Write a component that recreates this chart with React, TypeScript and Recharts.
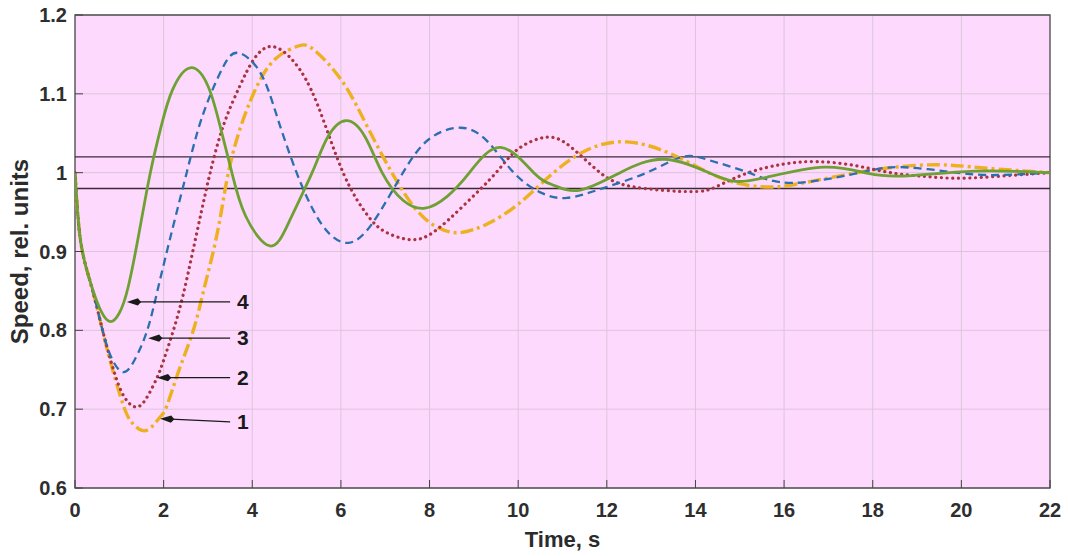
import React from 'react';
import { LineChart, Line, XAxis, YAxis, CartesianGrid, ReferenceLine, ReferenceArea } from 'recharts';

// ---- axis ticks ----
const xTicks = [0, 2, 4, 6, 8, 10, 12, 14, 16, 18, 20, 22];
const yTicks = [0.6, 0.7, 0.8, 0.9, 1, 1.1, 1.2];
const bandUpper = 1.02;
const bandLower = 0.98;

// ---- curve 1 (yellow dash-dot) ----
const curve1Time = [0, 0.04, 0.09, 0.15, 0.25, 0.41, 0.6, 0.79, 1.09, 1.3, 1.51, 1.72, 1.92, 2.07, 2.35, 2.67, 2.9, 3.12, 3.3, 3.46, 3.75, 4.18, 4.6, 5.0, 5.25, 5.6, 6.1, 6.6, 7.15, 7.7, 8.2, 8.7, 9.3, 10.0, 10.8, 11.6, 12.45, 13.4, 14.3, 15.0, 15.8, 16.7, 17.65, 18.5, 19.5, 20.5, 22];
const curve1Speed = [1.0, 0.965, 0.93, 0.905, 0.88, 0.848, 0.805, 0.762, 0.705, 0.682, 0.673, 0.677, 0.69, 0.704, 0.75, 0.8, 0.85, 0.9, 0.95, 1.0, 1.06, 1.118, 1.148, 1.16, 1.161, 1.145, 1.11, 1.058, 1.0, 0.953, 0.93, 0.924, 0.935, 0.96, 1.0, 1.03, 1.039, 1.025, 1.0, 0.986, 0.982, 0.99, 1.0, 1.007, 1.01, 1.006, 1.0];

// ---- curve 2 (red dotted) ----
const curve2Time = [0, 0.04, 0.09, 0.15, 0.25, 0.41, 0.6, 0.79, 1.05, 1.35, 1.6, 1.85, 2.0, 2.22, 2.44, 2.65, 2.85, 3.05, 3.35, 3.72, 4.05, 4.45, 4.95, 5.46, 6.05, 6.6, 7.0, 7.56, 8.1, 8.8, 9.5, 10.0, 10.65, 11.2, 11.85, 12.6, 13.9, 14.5, 15.2, 16.0, 16.75, 17.6, 18.4, 19.2, 20.0, 21.0, 22];
const curve2Speed = [1.0, 0.965, 0.93, 0.905, 0.88, 0.848, 0.805, 0.765, 0.722, 0.703, 0.713, 0.74, 0.762, 0.8, 0.845, 0.898, 0.95, 1.0, 1.06, 1.11, 1.145, 1.16, 1.14, 1.088, 1.0, 0.946, 0.925, 0.915, 0.925, 0.96, 1.0, 1.03, 1.045, 1.032, 1.0, 0.982, 0.976, 0.983, 1.0, 1.011, 1.014, 1.009, 1.0, 0.995, 0.993, 0.996, 1.0];

// ---- curve 3 (blue dashed) ----
const curve3Time = [0, 0.04, 0.09, 0.15, 0.25, 0.41, 0.6, 0.8, 1.08, 1.35, 1.63, 1.88, 2.21, 2.52, 2.78, 3.05, 3.35, 3.68, 4.18, 4.56, 5.0, 5.4, 5.75, 6.17, 6.7, 7.4, 8.0, 8.7, 9.3, 9.9, 10.5, 11.1, 11.9, 12.9, 13.7, 14.3, 15.2, 16.2, 17.7, 18.6, 19.6, 20.6, 22];
const curve3Speed = [1.0, 0.965, 0.93, 0.905, 0.88, 0.848, 0.805, 0.768, 0.747, 0.763, 0.8, 0.855, 0.931, 1.0, 1.055, 1.098, 1.135, 1.152, 1.127, 1.071, 1.0, 0.95, 0.922, 0.911, 0.935, 1.0, 1.043, 1.057, 1.04, 1.0, 0.975, 0.968, 0.98, 1.0, 1.02, 1.016, 1.0, 0.987, 1.0, 1.007, 1.002, 0.997, 1.0];

// ---- curve 4 (green solid) ----
const curve4Time = [0, 0.04, 0.09, 0.15, 0.25, 0.41, 0.6, 0.8, 1.0, 1.2, 1.45, 1.7, 1.95, 2.2, 2.6, 3.0, 3.27, 3.54, 3.85, 4.4, 4.85, 5.35, 5.7, 6.12, 6.55, 6.93, 7.4, 7.9, 8.4, 8.9, 9.6, 10.35, 10.8, 11.4, 12.3, 13.3, 14.3, 14.9, 15.6, 16.9, 17.9, 18.8, 20.3, 22];
const curve4Speed = [1.0, 0.965, 0.93, 0.905, 0.88, 0.85, 0.823, 0.811, 0.822, 0.855, 0.925, 1.0, 1.06, 1.105, 1.133, 1.11, 1.06, 1.0, 0.945, 0.907, 0.94, 1.0, 1.045, 1.066, 1.045, 1.0, 0.965, 0.955, 0.97, 1.0, 1.032, 1.0, 0.984, 0.978, 1.0, 1.017, 1.0, 0.989, 0.994, 1.007, 0.999, 0.996, 1.002, 1.0];

// ---- arrow annotations ----
const arrowLabels = ['4', '3', '2', '1'];
const arrowTipTime = [1.17, 1.65, 1.85, 1.92];
const arrowTipSpeed = [0.836, 0.79, 0.74, 0.688];
const arrowTailTime = [3.5, 3.5, 3.5, 3.5];
const arrowTailSpeed = [0.836, 0.79, 0.74, 0.684];

const toPoints = (ts: number[], vs: number[]) => ts.map((t, i) => ({ t, v: vs[i] }));
const data1 = toPoints(curve1Time, curve1Speed);
const data2 = toPoints(curve2Time, curve2Speed);
const data3 = toPoints(curve3Time, curve3Speed);
const data4 = toPoints(curve4Time, curve4Speed);

const FONT = '"Liberation Sans", Arial, Helvetica, sans-serif';

const ArrowShape = (props: any) => {
  const { x1, y1, x2, y2, text } = props;
  const ang = Math.atan2(y1 - y2, x1 - x2);
  const L = 11;
  const W = 3.6;
  const bx = x2 + L * Math.cos(ang);
  const by = y2 + L * Math.sin(ang);
  const px = -Math.sin(ang) * W;
  const py = Math.cos(ang) * W;
  return (
    <g>
      <line x1={x1} y1={y1} x2={bx} y2={by} stroke="#1a1a1a" strokeWidth={1.3} />
      <polygon points={`${x2},${y2} ${bx + px},${by + py} ${bx + 0.3 * L * Math.cos(ang)},${by + 0.3 * L * Math.sin(ang)} ${bx - px},${by - py}`} fill="#1a1a1a" />
      <text x={x1 + 7} y={y1 + 7} fontSize={21} fontWeight="bold" fill="#1a1a1a" fontFamily={FONT}>{text}</text>
    </g>
  );
};

const YLabel = (props: any) => {
  const vb = props.viewBox || {};
  const cx = 19;
  const cy = (vb.y ?? 15) + (vb.height ?? 473) / 2;
  return (
    <text x={cx} y={cy} transform={`rotate(-90, ${cx}, ${cy})`} textAnchor="middle" dominantBaseline="central"
      fontSize={24} fontWeight="bold" fill="#2b2b2b" fontFamily={FONT}>Speed, rel. units</text>
  );
};

const EmptyTick = () => <g />;

export default function App() {
  const tickStyle = { fontSize: 20, fontWeight: 'bold', fill: '#2e2e2e', fontFamily: FONT } as any;
  return (
    <div style={{ position: 'absolute', left: 0, top: 0, width: 1068, height: 556, background: '#ffffff', overflow: 'hidden' }}>
      <LineChart width={1068} height={556} margin={{ top: 15, right: 18, left: 0, bottom: 0 }}>
        <CartesianGrid stroke="#dcc4dc" strokeWidth={1} fill="#fddafd" />
        <XAxis dataKey="t" type="number" domain={[0, 22]} ticks={xTicks} allowDataOverflow
          height={68} tickSize={-8} tickMargin={23} tick={tickStyle}
          axisLine={false} tickLine={{ stroke: '#444' }}
          label={{ value: 'Time, s', position: 'insideBottom', offset: 9, style: { fontSize: 22, fontWeight: 'bold', fill: '#2b2b2b', fontFamily: FONT } }} />
        <XAxis xAxisId="top" orientation="top" dataKey="t" type="number" domain={[0, 22]} ticks={xTicks} allowDataOverflow
          height={0} tickSize={-8} tick={EmptyTick} axisLine={false} tickLine={{ stroke: '#444' }} />
        <YAxis type="number" domain={[0.6, 1.2]} ticks={yTicks} allowDataOverflow width={75}
          tickSize={-8} tickMargin={16} tick={tickStyle} axisLine={false} tickLine={{ stroke: '#444' }}
          label={<YLabel />} />
        <YAxis yAxisId="right" orientation="right" type="number" domain={[0.6, 1.2]} ticks={yTicks} allowDataOverflow width={0}
          tickSize={-8} tick={EmptyTick} axisLine={false} tickLine={{ stroke: '#444' }} />
        <ReferenceArea x1={0} x2={22} y1={0.6} y2={1.2} fill="none" fillOpacity={0} stroke="#505050" strokeWidth={1.3} />
        <ReferenceLine y={bandUpper} stroke="#3a2a38" strokeWidth={1.4} />
        <ReferenceLine y={bandLower} stroke="#3a2a38" strokeWidth={1.4} />
        <Line data={data1} dataKey="v" type="natural" stroke="#EDB120" strokeWidth={3.4} strokeDasharray="13 4 3 4"
          dot={false} isAnimationActive={false} />
        <Line data={data2} dataKey="v" type="natural" stroke="#A8343F" strokeWidth={3.2} strokeDasharray="0.1 5.6" strokeLinecap="round"
          dot={false} isAnimationActive={false} />
        <Line data={data3} dataKey="v" type="natural" stroke="#2A6FAE" strokeWidth={2.3} strokeDasharray="8 5"
          dot={false} isAnimationActive={false} />
        <Line data={data4} dataKey="v" type="natural" stroke="#6FA034" strokeWidth={2.8}
          dot={false} isAnimationActive={false} />
        {arrowLabels.map((lab, i) => (
          <ReferenceLine key={lab}
            segment={[{ x: arrowTailTime[i], y: arrowTailSpeed[i] }, { x: arrowTipTime[i], y: arrowTipSpeed[i] }]}
            shape={(p: any) => <ArrowShape {...p} text={lab} />} />
        ))}
      </LineChart>
    </div>
  );
}
